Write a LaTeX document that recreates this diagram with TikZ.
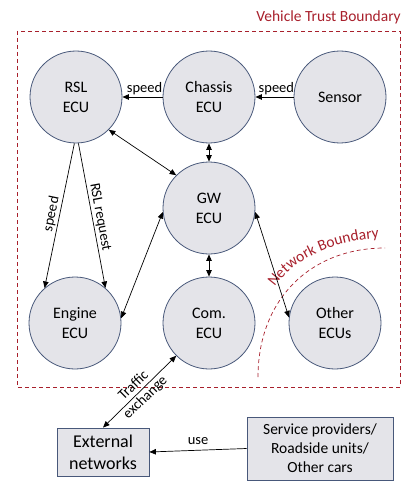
\documentclass[tikz,border=0pt]{standalone}
\usepackage{fontspec}
\setmainfont{Carlito}
\usepackage{tikz}
\usepackage{xcolor}
\usetikzlibrary{arrows.meta,decorations.text}
\definecolor{trust-red}{RGB}{168,32,44}
\definecolor{ecu-border}{RGB}{72,88,122}
\definecolor{ecu-fill}{RGB}{228,228,233}
\tikzset{
    ecu-circle/.style = {circle, draw=ecu-border, fill=ecu-fill, line width=0.8pt, minimum size=92pt, inner sep=0pt, align=center, font=\fontsize{16}{20}\selectfont},
    outer-box/.style = {rectangle, draw=ecu-border, fill=ecu-fill, line width=0.8pt, inner sep=0pt, align=center},
    one-way/.style = {-{Triangle[length=6.5pt,width=5.5pt]}, line width=0.7pt},
    two-way/.style = {{Triangle[length=6.5pt,width=5.5pt]}-{Triangle[length=6.5pt,width=5.5pt]}, line width=0.7pt},
    flow-label/.style = {font=\fontsize{14.5}{15}\selectfont, inner sep=1.5pt},
    boundary-line/.style = {draw=trust-red, line width=0.7pt, dash pattern=on 4pt off 3pt},
}

\begin{document}
\begin{tikzpicture}[x=1pt, y=-1pt]
\useasboundingbox (0,0) rectangle (416,500);

% vehicle trust boundary
\draw[boundary-line] (17,31) rectangle (400,387);
\node[anchor=east, inner sep=0pt, text=trust-red, font=\fontsize{15.5}{18}\selectfont] (trust-title) at (401,17) {Vehicle Trust Boundary};

% ECUs
\node[ecu-circle] (rsl) at (76,97) {RSL\\ECU};
\node[ecu-circle] (chassis) at (209,97) {Chassis\\ECU};
\node[ecu-circle] (sensor) at (340,97) {Sensor};
\node[ecu-circle] (gw) at (209,208) {GW\\ECU};
\node[ecu-circle] (engine) at (75,323) {Engine\\ECU};
\node[ecu-circle] (com) at (209,323) {Com.\\ECU};
\node[ecu-circle] (other) at (335,323) {Other\\ECUs};

% outside the vehicle
\node[outer-box, minimum width=92pt, minimum height=48pt, font=\fontsize{18}{22}\selectfont] (ext) at (103,452) {External\\networks};
\node[outer-box, minimum width=146pt, minimum height=63pt, font=\fontsize{15.5}{19}\selectfont] (service) at (320,448.5) {Service providers/\\Roadside units/\\Other cars};

% network boundary
\draw[boundary-line] (258,377) .. controls (258,300) and (310,248) .. (385,248);
\path[decorate, decoration={text along path, text align=center, text color=trust-red,
    text={|\fontsize{15.5}{18}\selectfont|Network Boundary}}]
    (268,298) .. controls (286,264) and (324,240) .. (392,237);

% signals
\draw[one-way] (chassis.west) -- node[flow-label, above, pos=0.45] {speed} (rsl.east);
\draw[one-way] (sensor.west) -- node[flow-label, above, pos=0.45] {speed} (chassis.east);
\draw[two-way] (chassis.south) -- (gw.north);
\draw[two-way] (rsl.-45) -- (gw.135);
\draw[one-way] (rsl.-92) -- node[flow-label, sloped, above] {speed} (engine.131);
\draw[one-way] (rsl.-87) -- node[flow-label, sloped, above, pos=0.52] {RSL request} (engine.49);
\draw[two-way] (engine.6) -- (gw.185);
\draw[two-way] (gw.south) -- (com.north);
\draw[two-way] (gw.-5) -- (other.173);
\draw[two-way] (ext.north) -- node[flow-label, sloped, align=center, font=\fontsize{14.5}{17}\selectfont] {Traffic\\exchange} (com.225);
\draw[one-way] (service.west) -- node[flow-label, above=4pt] {use} (ext.east);
\end{tikzpicture}
\end{document}
